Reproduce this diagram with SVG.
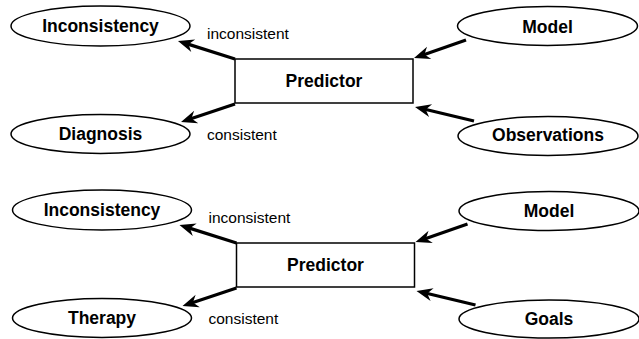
<svg xmlns="http://www.w3.org/2000/svg" width="639" height="339" viewBox="0 0 639 339">
  <style>
    .node { fill: #fff; stroke: #000; stroke-width: 1.5; }
    .lbl { font-family: "Liberation Sans", Arial, sans-serif; font-weight: bold; font-size: 17.5px; fill: #000; text-anchor: middle; }
    .edge-lbl { font-family: "Liberation Sans", Arial, sans-serif; font-size: 15.5px; fill: #000; }
    .edge { stroke: #000; stroke-width: 3.2; fill: none; marker-end: url(#head); }
  </style>
  <defs>
    <marker id="head" markerUnits="userSpaceOnUse" viewBox="-9 -8 18 16" refX="0" refY="0" markerWidth="18" markerHeight="16" orient="auto" overflow="visible">
      <path d="M8,0 L-8,-6.5 L-3,0 L-8,6.5 z" fill="#000"/>
    </marker>
  </defs>

  <rect width="639" height="339" fill="#fff"/>

  <!-- connectors -->
  <g id="connectors">
    <!-- diagnosis predictor -->
    <line class="edge" x1="235" y1="59" x2="185.6" y2="43.4"/>
    <line class="edge" x1="235" y1="104" x2="188.6" y2="119.5"/>
    <line class="edge" x1="466" y1="40" x2="421.6" y2="55.4"/>
    <line class="edge" x1="474" y1="121" x2="422.8" y2="108.8"/>
    <!-- therapy predictor -->
    <line class="edge" x1="236.5" y1="243" x2="187.1" y2="227.4"/>
    <line class="edge" x1="236.5" y1="288" x2="190.1" y2="303.5"/>
    <line class="edge" x1="467.5" y1="224" x2="423.1" y2="239.4"/>
    <line class="edge" x1="475.5" y1="305" x2="424.3" y2="292.8"/>
    <text class="edge-lbl" x="207" y="39">inconsistent</text>
    <text class="edge-lbl" x="207" y="140">consistent</text>
    <text class="edge-lbl" x="208.5" y="223">inconsistent</text>
    <text class="edge-lbl" x="208.5" y="324">consistent</text>
  </g>

  <!-- upper diagram -->
  <g id="inconsistency1">
    <ellipse class="node" cx="100.5" cy="26" rx="89.5" ry="20"/>
    <text class="lbl" x="100.5" y="32">Inconsistency</text>
  </g>
  <g id="diagnosis">
    <ellipse class="node" cx="100.5" cy="134" rx="89.5" ry="19.5"/>
    <text class="lbl" x="100.5" y="140">Diagnosis</text>
  </g>
  <g id="predictor1">
    <rect class="node" x="235" y="59" width="178" height="44"/>
    <text class="lbl" x="324" y="87">Predictor</text>
  </g>
  <g id="model1">
    <ellipse class="node" cx="547.5" cy="26" rx="90" ry="19.5"/>
    <text class="lbl" x="547.5" y="33">Model</text>
  </g>
  <g id="observations">
    <ellipse class="node" cx="548" cy="136" rx="90" ry="19.5"/>
    <text class="lbl" x="548" y="141">Observations</text>
  </g>

  <!-- lower diagram -->
  <g id="inconsistency2">
    <ellipse class="node" cx="102" cy="210" rx="89.5" ry="20"/>
    <text class="lbl" x="102" y="216">Inconsistency</text>
  </g>
  <g id="therapy">
    <ellipse class="node" cx="102" cy="318" rx="89.5" ry="19.5"/>
    <text class="lbl" x="102" y="324">Therapy</text>
  </g>
  <g id="predictor2">
    <rect class="node" x="236.5" y="243" width="178" height="44"/>
    <text class="lbl" x="325.5" y="271">Predictor</text>
  </g>
  <g id="model2">
    <ellipse class="node" cx="549" cy="211" rx="90" ry="19.5"/>
    <text class="lbl" x="549" y="217">Model</text>
  </g>
  <g id="goals">
    <ellipse class="node" cx="549" cy="319" rx="90" ry="19"/>
    <text class="lbl" x="549" y="325">Goals</text>
  </g>
</svg>
